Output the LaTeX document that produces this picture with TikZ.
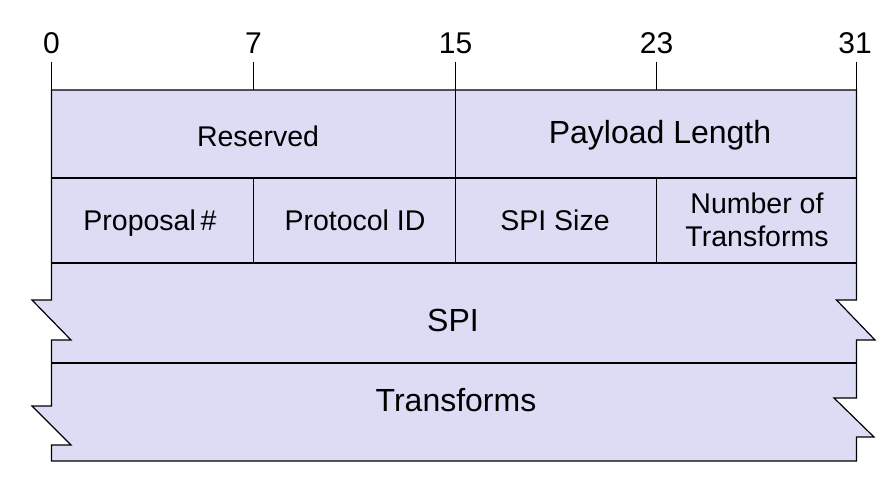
\documentclass[tikz,border=0pt]{standalone}
\usepackage{fontspec}
\setmainfont{Liberation Sans}
\usepackage{xcolor}
\usepackage{tikz}

\definecolor{fieldfill}{RGB}{220,220,245}
\tikzset{
  field/.style={anchor=center,inner sep=0pt,text height=20.4pt,text depth=0pt,font=\fontsize{28.5}{33}\selectfont},
  twoline/.style={anchor=center,inner sep=0pt,align=center,font=\fontsize{28.5}{33}\selectfont},
  bigfield/.style={anchor=center,inner sep=0pt,text height=22.9pt,text depth=0pt,font=\fontsize{32}{36}\selectfont},
  bitnum/.style={anchor=center,inner sep=0pt,text height=21.5pt,text depth=0pt,font=\fontsize{30}{34}\selectfont},
  rule/.style={line width=1.2pt,color=black}
}

\begin{document}
\begin{tikzpicture}[x=1pt,y=1pt,yscale=-1,xscale=1]
\useasboundingbox (0,0) rectangle (896,484);
%Shape: Header body with breaks
\filldraw [rule,fill=fieldfill,line join=miter] (51.5,90) -- (856.5,90) -- (856.5,300) -- (836.5,300) -- (875,340) -- (856.5,340) -- (856.5,398) -- (834,398) -- (874,437) -- (856.5,437) -- (856.5,461) -- (51.5,461) -- (51.5,445) -- (71,445) -- (32,406) -- (51.5,406) -- (51.5,340) -- (71,340) -- (32,300) -- (51.5,300) -- cycle ;
%Straight Lines: rows
\draw [rule]  (51.5,178) -- (856.5,178) ;
\draw [rule]  (51.5,263) -- (856.5,263) ;
\draw [rule]  (51.5,363) -- (856.5,363) ;
%Straight Lines: field borders
\draw [rule]  (455.5,90) -- (455.5,263) ;
\draw [rule]  (253.5,178) -- (253.5,263) ;
\draw [rule]  (656.5,178) -- (656.5,263) ;
%Straight Lines: bit ticks
\foreach \bx in {51.5,253.5,455.5,656.5,856.5}
  \draw [rule]  (\bx,62) -- (\bx,90) ;
% Text Node: bit numbers
\node (b0) at (51.5,42.5) [bitnum] {0};
\node (b7) at (253.5,42.5) [bitnum] {7};
\node (b15) at (455.5,42.5) [bitnum] {15};
\node (b23) at (656.5,42.5) [bitnum] {23};
\node (b31) at (855,42.5) [bitnum] {31};
% Text Node
\node (reserved) at (258,136) [field] {Reserved};
% Text Node
\node (paylen) at (660,132) [bigfield] {Payload Length};
% Text Node
\node (propnum) at (150,220.5) [field] {Proposal\,\#};
% Text Node
\node (protoid) at (355,220.5) [field] {Protocol ID};
% Text Node
\node (spisize) at (555,220.5) [field] {SPI Size};
% Text Node
\node (numtrans) at (757,220) [twoline] {Number of\\Transforms};
% Text Node
\node (spi) at (453,320) [bigfield] {SPI};
% Text Node
\node (transforms) at (456,400) [bigfield] {Transforms};
\end{tikzpicture}
\end{document}
